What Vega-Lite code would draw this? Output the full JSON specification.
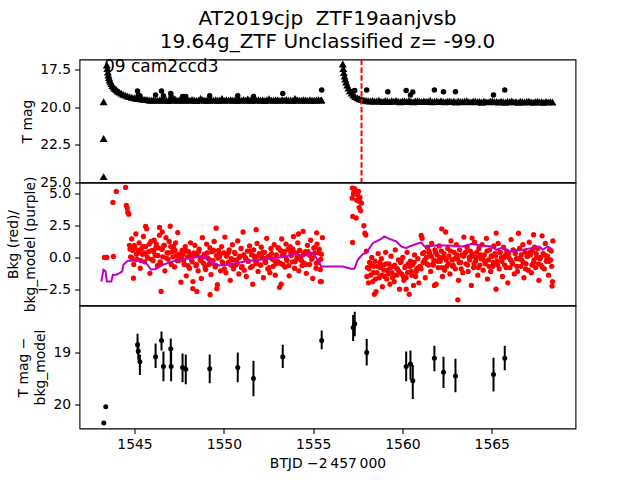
{
"$schema": "https://vega.github.io/schema/vega-lite/v6.json",
"background": "white",
"padding": {"left": 5.5, "top": 7.5, "right": 5, "bottom": 5},
"bounds": "flush",
"spacing": 0,
"config": {
  "font": "DejaVu Sans",
  "view": {"stroke": "black", "strokeWidth": 1.1},
  "axis": {"domain": false, "grid": false, "labelFont": "DejaVu Sans", "labelFontSize": 13.9, "labelColor": "black", "tickColor": "black", "tickSize": 4.9, "tickWidth": 1.1, "labelPadding": 4, "titleFont": "DejaVu Sans", "titleFontSize": 13.9, "titleFontWeight": "normal", "titleColor": "black", "titlePadding": 5, "titleLineHeight": 17, "labelFlush": false}
},
"datasets": {
  "lc": [
    {"t":1543.27,"m":19.65},{"t":1543.27,"m":22.08},{"t":1543.27,"m":24.61},
    {"t":1543.45,"m":17.22},{"t":1543.48,"m":17.45},{"t":1543.51,"m":17.68},{"t":1543.54,"m":17.88},{"t":1543.57,"m":18.05},{"t":1543.61,"m":18.2},{"t":1543.65,"m":18.33},{"t":1543.70,"m":18.45},{"t":1543.76,"m":18.57},{"t":1543.83,"m":18.68},{"t":1543.90,"m":18.77},{"t":1543.98,"m":18.86},{"t":1544.06,"m":18.94},{"t":1544.15,"m":19.01},{"t":1544.25,"m":19.08},{"t":1544.36,"m":19.15},{"t":1544.48,"m":19.21},{"t":1544.60,"m":19.27},{"t":1544.72,"m":19.31},{"t":1544.85,"m":19.35},{"t":1544.98,"m":19.39},{"t":1545.10,"m":19.42},{"t":1545.22,"m":19.44},{"t":1545.34,"m":19.46},{"t":1545.46,"m":19.47},{"t":1545.58,"m":19.49},{"t":1545.70,"m":19.5},
    {"t":1545.82,"m":19.53},{"t":1545.94,"m":19.55},{"t":1546.06,"m":19.51},{"t":1546.18,"m":19.54},{"t":1546.30,"m":19.56},{"t":1546.42,"m":19.52},{"t":1546.54,"m":19.50},{"t":1546.66,"m":19.55},{"t":1546.78,"m":19.53},{"t":1546.90,"m":19.57},
    {"t":1547.02,"m":19.52},{"t":1547.14,"m":19.54},{"t":1547.26,"m":19.45},{"t":1547.38,"m":19.55},{"t":1547.50,"m":19.53},{"t":1547.62,"m":19.51},{"t":1547.74,"m":19.56},{"t":1547.86,"m":19.54},{"t":1547.98,"m":19.52},{"t":1548.10,"m":19.55},
    {"t":1548.22,"m":19.50},{"t":1548.34,"m":19.53},{"t":1548.46,"m":19.57},{"t":1548.58,"m":19.54},{"t":1548.70,"m":19.44},{"t":1548.82,"m":19.52},{"t":1548.94,"m":19.55},{"t":1549.06,"m":19.53},{"t":1549.18,"m":19.56},{"t":1549.30,"m":19.51},
    {"t":1549.42,"m":19.54},{"t":1549.54,"m":19.52},{"t":1549.66,"m":19.55},{"t":1549.78,"m":19.53},{"t":1549.90,"m":19.43},{"t":1550.02,"m":19.56},{"t":1550.14,"m":19.52},{"t":1550.26,"m":19.54},{"t":1550.38,"m":19.51},{"t":1550.50,"m":19.55},
    {"t":1550.62,"m":19.53},{"t":1550.74,"m":19.57},{"t":1550.86,"m":19.52},{"t":1550.98,"m":19.54},{"t":1551.10,"m":19.50},{"t":1551.22,"m":19.55},{"t":1551.34,"m":19.46},{"t":1551.46,"m":19.53},{"t":1551.58,"m":19.56},{"t":1551.70,"m":19.52},
    {"t":1551.82,"m":19.54},{"t":1551.94,"m":19.51},{"t":1552.06,"m":19.55},{"t":1552.18,"m":19.53},{"t":1552.30,"m":19.57},{"t":1552.42,"m":19.52},{"t":1552.54,"m":19.45},{"t":1552.66,"m":19.54},{"t":1552.78,"m":19.55},{"t":1552.90,"m":19.51},
    {"t":1553.02,"m":19.53},{"t":1553.14,"m":19.56},{"t":1553.26,"m":19.52},{"t":1553.38,"m":19.54},{"t":1553.50,"m":19.50},{"t":1553.62,"m":19.55},{"t":1553.74,"m":19.53},{"t":1553.86,"m":19.57},{"t":1553.98,"m":19.44},{"t":1554.10,"m":19.52},
    {"t":1554.22,"m":19.54},{"t":1554.34,"m":19.55},{"t":1554.46,"m":19.51},{"t":1554.58,"m":19.53},{"t":1554.70,"m":19.56},{"t":1554.82,"m":19.52},{"t":1554.94,"m":19.54},{"t":1555.06,"m":19.55},{"t":1555.18,"m":19.53},{"t":1555.30,"m":19.51},
    {"t":1555.42,"m":19.54},{"t":1555.47,"m":19.53},
    {"t":1556.66,"m":17.15},{"t":1556.69,"m":17.45},{"t":1556.72,"m":17.72},{"t":1556.76,"m":17.95},{"t":1556.80,"m":18.15},{"t":1556.85,"m":18.35},{"t":1556.91,"m":18.55},{"t":1556.98,"m":18.74},{"t":1557.06,"m":18.92},{"t":1557.15,"m":19.07},{"t":1557.25,"m":19.2},{"t":1557.36,"m":19.31},{"t":1557.48,"m":19.39},{"t":1557.60,"m":19.45},{"t":1557.72,"m":19.5},{"t":1557.84,"m":19.53},{"t":1557.96,"m":19.56},
    {"t":1558.08,"m":19.58},{"t":1558.20,"m":19.60},{"t":1558.32,"m":19.56},{"t":1558.44,"m":19.62},{"t":1558.56,"m":19.59},{"t":1558.68,"m":19.55},{"t":1558.80,"m":19.61},{"t":1558.92,"m":19.63},{"t":1559.04,"m":19.57},{"t":1559.16,"m":19.60},
    {"t":1559.28,"m":19.64},{"t":1559.40,"m":19.58},{"t":1559.52,"m":19.61},{"t":1559.64,"m":19.56},{"t":1559.76,"m":19.62},{"t":1559.88,"m":19.65},{"t":1560.00,"m":19.59},{"t":1560.12,"m":19.60},{"t":1560.24,"m":19.63},{"t":1560.36,"m":19.57},
    {"t":1560.48,"m":19.61},{"t":1560.60,"m":19.66},{"t":1560.72,"m":19.60},{"t":1560.84,"m":19.58},{"t":1560.96,"m":19.62},{"t":1561.08,"m":19.64},{"t":1561.20,"m":19.59},{"t":1561.32,"m":19.63},{"t":1561.44,"m":19.61},{"t":1561.56,"m":19.57},
    {"t":1561.68,"m":19.65},{"t":1561.80,"m":19.62},{"t":1561.92,"m":19.60},{"t":1562.04,"m":19.64},{"t":1562.16,"m":19.58},{"t":1562.28,"m":19.63},{"t":1562.40,"m":19.66},{"t":1562.52,"m":19.61},{"t":1562.64,"m":19.59},{"t":1562.76,"m":19.64},
    {"t":1562.88,"m":19.62},{"t":1563.00,"m":19.67},{"t":1563.12,"m":19.60},{"t":1563.24,"m":19.63},{"t":1563.36,"m":19.65},{"t":1563.48,"m":19.61},{"t":1563.60,"m":19.58},{"t":1563.72,"m":19.64},{"t":1563.84,"m":19.66},{"t":1563.96,"m":19.62},
    {"t":1564.08,"m":19.60},{"t":1564.20,"m":19.65},{"t":1564.32,"m":19.63},{"t":1564.44,"m":19.68},{"t":1564.56,"m":19.61},{"t":1564.68,"m":19.64},{"t":1564.80,"m":19.66},{"t":1564.92,"m":19.62},{"t":1565.04,"m":19.59},{"t":1565.16,"m":19.65},
    {"t":1565.28,"m":19.63},{"t":1565.40,"m":19.67},{"t":1565.52,"m":19.61},{"t":1565.64,"m":19.64},{"t":1565.76,"m":19.68},{"t":1565.88,"m":19.62},{"t":1566.00,"m":19.65},{"t":1566.12,"m":19.60},{"t":1566.24,"m":19.66},{"t":1566.36,"m":19.64},
    {"t":1566.48,"m":19.69},{"t":1566.60,"m":19.62},{"t":1566.72,"m":19.65},{"t":1566.84,"m":19.67},{"t":1566.96,"m":19.63},{"t":1567.08,"m":19.61},{"t":1567.20,"m":19.66},{"t":1567.32,"m":19.68},{"t":1567.44,"m":19.64},{"t":1567.56,"m":19.62},
    {"t":1567.68,"m":19.67},{"t":1567.80,"m":19.65},{"t":1567.92,"m":19.69},{"t":1568.04,"m":19.63},{"t":1568.16,"m":19.66},{"t":1568.28,"m":19.64},{"t":1568.40,"m":19.67}
  ],
  "det": [
    {"t":1545.17,"m":18.94},{"t":1545.21,"m":19.2},{"t":1545.30,"m":19.25},{"t":1546.18,"m":19.2},{"t":1546.51,"m":18.94},{"t":1546.62,"m":19.25},{"t":1547.03,"m":19.1},{"t":1547.05,"m":19.3},{"t":1547.69,"m":19.3},{"t":1547.87,"m":19.3},{"t":1549.21,"m":19.25},{"t":1550.78,"m":19.25},{"t":1551.66,"m":19.3},{"t":1553.30,"m":19.1},{"t":1555.48,"m":18.87},{"t":1557.24,"m":18.95},{"t":1557.33,"m":18.9},{"t":1558.00,"m":18.87},{"t":1559.18,"m":18.98},{"t":1560.21,"m":18.9},{"t":1560.45,"m":19.2},{"t":1560.58,"m":19.0},{"t":1561.79,"m":18.87},{"t":1562.30,"m":18.98},{"t":1562.97,"m":18.98},{"t":1565.10,"m":19.2},{"t":1565.73,"m":18.87}
  ],
  "bkg": [
    {"t":1543.32,"b":0.0},{"t":1543.45,"b":0.0},{"t":1543.82,"b":0.08},{"t":1543.79,"b":4.32},{"t":1543.98,"b":5.19},{"t":1544.5,"b":5.5},{"t":1544.54,"b":4.09},{"t":1544.59,"b":3.88},{"t":1544.62,"b":3.56},{"t":1544.68,"b":3.4},{"t":1544.94,"b":-1.63},
    {"t":1544.72,"b":0.95},{"t":1544.78,"b":0.05},{"t":1544.84,"b":1.45},{"t":1544.90,"b":0.55},{"t":1544.96,"b":-0.55},{"t":1545.02,"b":0.75},{"t":1545.08,"b":1.85},{"t":1545.14,"b":-0.15},{"t":1545.20,"b":0.35},{"t":1545.26,"b":1.15},
    {"t":1545.32,"b":-0.85},{"t":1545.38,"b":0.65},{"t":1545.44,"b":0.25},{"t":1545.50,"b":1.65},{"t":1545.56,"b":-0.35},{"t":1545.62,"b":0.85},{"t":1545.68,"b":2.25},{"t":1545.74,"b":-0.05},{"t":1545.80,"b":0.45},{"t":1545.86,"b":-1.25},
    {"t":1545.92,"b":1.25},{"t":1545.98,"b":0.55},{"t":1546.04,"b":-0.25},{"t":1546.10,"b":1.35},{"t":1546.16,"b":0.15},{"t":1546.22,"b":1.05},{"t":1546.28,"b":-0.65},{"t":1546.34,"b":0.75},{"t":1546.40,"b":1.75},{"t":1546.46,"b":-0.45},
    {"t":1546.52,"b":0.65},{"t":1546.58,"b":0.05},{"t":1546.64,"b":0.95},{"t":1546.70,"b":-1.05},{"t":1546.76,"b":1.55},{"t":1546.82,"b":0.35},{"t":1546.88,"b":-0.15},{"t":1546.94,"b":1.25},{"t":1547.00,"b":2.45},{"t":1547.06,"b":-0.55},
    {"t":1547.12,"b":0.45},{"t":1547.18,"b":0.85},{"t":1547.24,"b":-0.75},{"t":1547.30,"b":1.15},{"t":1547.36,"b":0.15},{"t":1547.42,"b":1.95},{"t":1547.48,"b":-0.25},{"t":1547.54,"b":0.05},{"t":1547.60,"b":-1.95},{"t":1547.66,"b":0.55},
    {"t":1547.72,"b":0.25},{"t":1547.78,"b":-0.55},{"t":1547.84,"b":0.85},{"t":1547.90,"b":-1.45},{"t":1547.96,"b":0.05},{"t":1548.02,"b":0.45},{"t":1548.08,"b":-0.85},{"t":1548.14,"b":1.15},{"t":1548.20,"b":-0.25},{"t":1548.26,"b":-2.45},
    {"t":1548.32,"b":0.35},{"t":1548.38,"b":0.95},{"t":1548.44,"b":-0.65},{"t":1548.50,"b":0.15},{"t":1548.56,"b":-1.05},{"t":1548.62,"b":0.65},{"t":1548.68,"b":-0.15},{"t":1548.74,"b":-1.65},{"t":1548.80,"b":1.55},{"t":1548.86,"b":-0.45},
    {"t":1548.92,"b":0.25},{"t":1548.98,"b":-0.95},{"t":1549.04,"b":1.05},{"t":1549.10,"b":-0.05},{"t":1549.16,"b":-0.55},{"t":1549.22,"b":0.75},{"t":1549.28,"b":-1.35},{"t":1549.34,"b":0.45},{"t":1549.40,"b":-0.25},{"t":1549.46,"b":1.25},
    {"t":1549.52,"b":-0.75},{"t":1549.58,"b":0.15},{"t":1549.64,"b":-2.15},{"t":1549.70,"b":0.55},{"t":1549.76,"b":0.05},{"t":1549.82,"b":-1.05},{"t":1549.88,"b":0.85},{"t":1549.94,"b":-0.45},{"t":1550.00,"b":0.35},{"t":1550.06,"b":1.6},
    {"t":1550.12,"b":-1.2},{"t":1550.18,"b":0.2},{"t":1550.24,"b":-0.4},{"t":1550.30,"b":0.6},{"t":1550.36,"b":-1.8},{"t":1550.42,"b":-0.1},{"t":1550.48,"b":1.0},{"t":1550.54,"b":-0.9},{"t":1550.60,"b":0.4},{"t":1550.66,"b":-0.6},
    {"t":1550.72,"b":-0.2},{"t":1550.78,"b":1.3},{"t":1550.84,"b":-1.3},{"t":1550.90,"b":0.1},{"t":1550.96,"b":0.7},{"t":1551.02,"b":-0.7},{"t":1551.08,"b":2.0},{"t":1551.14,"b":-1.0},{"t":1551.20,"b":0.0},{"t":1551.26,"b":-1.5},
    {"t":1551.32,"b":0.5},{"t":1551.38,"b":-0.3},{"t":1551.44,"b":0.9},{"t":1551.50,"b":-0.8},{"t":1551.56,"b":0.2},{"t":1551.62,"b":-2.1},{"t":1551.68,"b":0.6},{"t":1551.74,"b":-0.2},{"t":1551.80,"b":-0.5},{"t":1551.86,"b":1.1},
    {"t":1551.92,"b":-1.1},{"t":1551.98,"b":0.3},{"t":1552.04,"b":-0.6},{"t":1552.10,"b":0.8},{"t":1552.16,"b":0.0},{"t":1552.22,"b":-1.6},{"t":1552.28,"b":0.4},{"t":1552.34,"b":-0.4},{"t":1552.40,"b":1.5},{"t":1552.46,"b":-0.9},
    {"t":1552.52,"b":0.1},{"t":1552.58,"b":-1.2},{"t":1552.64,"b":0.7},{"t":1552.70,"b":-0.1},{"t":1552.76,"b":-0.7},{"t":1552.82,"b":1.0},{"t":1552.88,"b":-1.4},{"t":1552.94,"b":0.2},{"t":1553.00,"b":-0.3},{"t":1553.06,"b":0.75},
    {"t":1553.12,"b":-2.35},{"t":1553.18,"b":0.55},{"t":1553.24,"b":1.45},{"t":1553.30,"b":-0.55},{"t":1553.36,"b":0.25},{"t":1553.42,"b":-0.75},{"t":1553.48,"b":1.05},{"t":1553.54,"b":-0.25},{"t":1553.60,"b":0.65},{"t":1553.66,"b":-1.45},
    {"t":1553.72,"b":0.85},{"t":1553.78,"b":0.15},{"t":1553.84,"b":-0.35},{"t":1553.90,"b":1.65},{"t":1553.96,"b":-0.85},{"t":1554.02,"b":0.35},{"t":1554.08,"b":-0.15},{"t":1554.14,"b":1.15},{"t":1554.20,"b":-1.05},{"t":1554.26,"b":0.55},
    {"t":1554.32,"b":0.05},{"t":1554.38,"b":-0.65},{"t":1554.44,"b":2.05},{"t":1554.50,"b":-0.45},{"t":1554.56,"b":0.45},{"t":1554.62,"b":-1.25},{"t":1554.68,"b":0.95},{"t":1554.74,"b":0.25},{"t":1554.80,"b":-0.55},{"t":1554.86,"b":1.35},
    {"t":1554.92,"b":-0.15},{"t":1554.98,"b":-1.65},{"t":1555.04,"b":0.75},{"t":1555.10,"b":0.35},{"t":1555.16,"b":-0.85},{"t":1555.22,"b":1.05},{"t":1555.28,"b":-0.35},{"t":1555.34,"b":0.65},{"t":1555.40,"b":-0.95},{"t":1555.46,"b":0.25},
    {"t":1555.52,"b":1.55},
    {"t":1555.40,"b":-1.9},{"t":1555.46,"b":-1.9},{"t":1555.2,"b":1.93},{"t":1546.49,"b":-2.67},{"t":1548.49,"b":-2.67},{"t":1549.23,"b":-2.93},{"t":1549.61,"b":-2.46},{"t":1548.27,"b":-1.9},{"t":1553.21,"b":-2.1},{"t":1545.62,"b":2.44},{"t":1546.40,"b":2.36},{"t":1546.55,"b":2.0},{"t":1549.57,"b":2.3},{"t":1551.81,"b":2.18},{"t":1554.18,"b":1.84},
    {"t":1544.75,"b":0.65},{"t":1544.87,"b":-0.05},{"t":1544.99,"b":0.95},{"t":1545.11,"b":0.25},{"t":1545.23,"b":0.55},{"t":1545.35,"b":-0.25},{"t":1545.47,"b":0.85},{"t":1545.59,"b":0.35},{"t":1545.71,"b":0.05},{"t":1545.83,"b":1.05},
    {"t":1545.95,"b":-0.15},{"t":1546.07,"b":0.45},{"t":1546.19,"b":0.75},{"t":1546.31,"b":0.15},{"t":1546.43,"b":-0.35},{"t":1546.55,"b":0.65},{"t":1546.67,"b":0.95},{"t":1546.79,"b":-0.05},{"t":1546.91,"b":0.35},{"t":1547.03,"b":0.85},
    {"t":1547.15,"b":0.05},{"t":1547.27,"b":0.55},{"t":1547.39,"b":-0.25},{"t":1547.51,"b":0.25},{"t":1547.63,"b":-0.05},{"t":1547.75,"b":-0.25},{"t":1547.87,"b":0.55},{"t":1547.99,"b":-0.65},{"t":1548.11,"b":0.15},{"t":1548.23,"b":-0.35},
    {"t":1548.35,"b":0.15},{"t":1548.47,"b":-0.55},{"t":1548.59,"b":0.45},{"t":1548.71,"b":-0.25},{"t":1548.83,"b":0.05},{"t":1548.95,"b":-0.75},{"t":1549.07,"b":0.35},{"t":1549.19,"b":-0.15},{"t":1549.31,"b":-0.45},{"t":1549.43,"b":0.55},
    {"t":1549.55,"b":-0.65},{"t":1549.67,"b":-0.05},{"t":1549.79,"b":0.25},{"t":1549.91,"b":-0.35},{"t":1550.03,"b":-0.9},{"t":1550.15,"b":0.1},{"t":1550.27,"b":0.4},{"t":1550.39,"b":-0.6},{"t":1550.51,"b":-0.2},{"t":1550.63,"b":0.3},
    {"t":1550.75,"b":-0.5},{"t":1550.87,"b":0.0},{"t":1550.99,"b":-0.8},{"t":1551.11,"b":0.2},{"t":1551.23,"b":-0.1},{"t":1551.35,"b":-0.3},{"t":1551.47,"b":0.5},{"t":1551.59,"b":-0.7},{"t":1551.71,"b":0.1},{"t":1551.83,"b":-0.4},
    {"t":1551.95,"b":0.1},{"t":1552.07,"b":-0.6},{"t":1552.19,"b":0.4},{"t":1552.31,"b":-0.3},{"t":1552.43,"b":0.0},{"t":1552.55,"b":-0.8},{"t":1552.67,"b":0.3},{"t":1552.79,"b":-0.2},{"t":1552.91,"b":-0.5},{"t":1553.03,"b":0.75},
    {"t":1553.15,"b":-0.45},{"t":1553.27,"b":0.15},{"t":1553.39,"b":0.45},{"t":1553.51,"b":-0.15},{"t":1553.63,"b":-0.65},{"t":1553.75,"b":0.35},{"t":1553.87,"b":0.65},{"t":1553.99,"b":-0.35},{"t":1554.11,"b":0.05},{"t":1554.23,"b":0.55},
    {"t":1554.35,"b":-0.25},{"t":1554.47,"b":0.25},{"t":1554.59,"b":-0.55},{"t":1554.71,"b":0.45},{"t":1554.83,"b":0.15},{"t":1554.95,"b":-0.05},{"t":1555.07,"b":0.75},{"t":1555.19,"b":-0.45},{"t":1555.31,"b":0.35},{"t":1555.43,"b":-0.15},
    {"t":1557.19,"b":5.45},{"t":1557.19,"b":4.66},{"t":1557.21,"b":1.18},{"t":1557.22,"b":3.22},{"t":1557.26,"b":4.98},{"t":1557.28,"b":5.1},{"t":1557.32,"b":5.4},{"t":1557.38,"b":5.24},{"t":1557.41,"b":3.1},{"t":1557.45,"b":4.5},{"t":1557.48,"b":4.93},{"t":1557.54,"b":5.2},{"t":1557.58,"b":3.92},{"t":1557.60,"b":4.4},{"t":1557.62,"b":4.72},{"t":1557.66,"b":3.67},{"t":1557.71,"b":4.27},{"t":1557.84,"b":2.49},{"t":1557.90,"b":1.9},{"t":1557.95,"b":1.77},
    {"t":1557.98,"b":0.5},{"t":1558.04,"b":-0.8},{"t":1558.10,"b":-2.0},{"t":1558.16,"b":-0.4},{"t":1558.22,"b":-1.4},{"t":1558.28,"b":0.0},{"t":1558.34,"b":-1.9},{"t":1558.40,"b":-0.7},{"t":1558.46,"b":-0.3},{"t":1558.52,"b":-2.7},
    {"t":1558.58,"b":-1.2},{"t":1558.64,"b":0.3},{"t":1558.70,"b":-1.6},{"t":1558.76,"b":-0.8},{"t":1558.82,"b":-0.1},{"t":1558.88,"b":-2.3},{"t":1558.94,"b":-0.6},{"t":1559.00,"b":-1.5},{"t":1559.06,"b":0.4},{"t":1559.12,"b":-1.7},
    {"t":1559.18,"b":-1.0},{"t":1559.24,"b":-0.5},{"t":1559.30,"b":-2.1},{"t":1559.36,"b":0.1},{"t":1559.42,"b":-1.2},{"t":1559.48,"b":-0.7},{"t":1559.54,"b":-1.9},{"t":1559.60,"b":0.6},{"t":1559.66,"b":-1.4},{"t":1559.72,"b":-0.9},
    {"t":1559.78,"b":-0.2},{"t":1559.84,"b":-2.5},{"t":1559.90,"b":-0.4},{"t":1559.96,"b":-1.3},{"t":1560.02,"b":0.0},{"t":1560.08,"b":-1.8},{"t":1560.14,"b":-0.8},{"t":1560.20,"b":-1.6},{"t":1560.26,"b":0.4},{"t":1560.32,"b":-0.5},
    {"t":1560.38,"b":-2.9},{"t":1560.44,"b":-0.3},{"t":1560.50,"b":-1.1},{"t":1560.56,"b":-0.6},{"t":1560.62,"b":-2.2},{"t":1560.68,"b":0.2},{"t":1560.74,"b":-1.5},{"t":1560.80,"b":-0.9},{"t":1560.86,"b":-0.1},{"t":1560.92,"b":-2.0},
    {"t":1560.98,"b":-0.7},{"t":1561.04,"b":-0.9},{"t":1561.10,"b":1.5},{"t":1561.16,"b":-0.4},{"t":1561.22,"b":0.4},{"t":1561.28,"b":-1.6},{"t":1561.34,"b":0.0},{"t":1561.40,"b":0.8},{"t":1561.46,"b":-0.6},{"t":1561.52,"b":0.3},
    {"t":1561.58,"b":-1.1},{"t":1561.64,"b":1.1},{"t":1561.70,"b":-0.5},{"t":1561.76,"b":-0.2},{"t":1561.82,"b":0.6},{"t":1561.88,"b":-2.1},{"t":1561.94,"b":0.2},{"t":1562.00,"b":-0.8},{"t":1562.06,"b":0.9},{"t":1562.12,"b":-0.3},
    {"t":1562.18,"b":0.5},{"t":1562.24,"b":-1.5},{"t":1562.30,"b":0.0},{"t":1562.36,"b":-1.0},{"t":1562.42,"b":2.0},{"t":1562.48,"b":-0.7},{"t":1562.54,"b":0.7},{"t":1562.60,"b":0.1},{"t":1562.66,"b":-1.3},{"t":1562.72,"b":1.3},
    {"t":1562.78,"b":-0.2},{"t":1562.84,"b":-0.6},{"t":1562.90,"b":0.4},{"t":1562.96,"b":-0.9},{"t":1563.02,"b":1.0},{"t":1563.08,"b":-0.1},{"t":1563.14,"b":-1.8},{"t":1563.20,"b":0.6},{"t":1563.26,"b":-0.4},{"t":1563.32,"b":0.2},
    {"t":1563.38,"b":-1.2},{"t":1563.44,"b":1.6},{"t":1563.50,"b":0.3},{"t":1563.56,"b":-0.5},{"t":1563.62,"b":0.8},{"t":1563.68,"b":-1.1},{"t":1563.74,"b":0.0},{"t":1563.80,"b":0.5},{"t":1563.86,"b":-2.2},{"t":1563.92,"b":0.1},
    {"t":1563.98,"b":-0.8},{"t":1564.04,"b":1.2},{"t":1564.10,"b":-0.3},{"t":1564.16,"b":0.4},{"t":1564.22,"b":-1.4},{"t":1564.28,"b":0.7},{"t":1564.34,"b":-0.6},{"t":1564.40,"b":-0.1},{"t":1564.46,"b":1.0},{"t":1564.52,"b":-1.0},
    {"t":1564.58,"b":0.2},{"t":1564.64,"b":-0.5},{"t":1564.70,"b":1.5},{"t":1564.76,"b":-1.7},{"t":1564.82,"b":-0.2},{"t":1564.88,"b":0.6},{"t":1564.94,"b":-1.1},{"t":1565.00,"b":0.1},{"t":1565.06,"b":-0.7},{"t":1565.12,"b":0.9},
    {"t":1565.18,"b":0.3},{"t":1565.24,"b":-2.5},{"t":1565.30,"b":-0.3},{"t":1565.36,"b":1.1},{"t":1565.42,"b":-0.9},{"t":1565.48,"b":0.4},{"t":1565.54,"b":0.0},{"t":1565.60,"b":-1.5},{"t":1565.66,"b":0.8},{"t":1565.72,"b":-0.6},
    {"t":1565.78,"b":0.2},{"t":1565.84,"b":0.5},{"t":1565.90,"b":-2.0},{"t":1565.96,"b":0.0},{"t":1566.02,"b":-0.8},{"t":1566.08,"b":1.4},{"t":1566.14,"b":-0.4},{"t":1566.20,"b":0.6},{"t":1566.26,"b":-1.3},{"t":1566.32,"b":0.3},
    {"t":1566.38,"b":-0.1},{"t":1566.44,"b":-1.1},{"t":1566.50,"b":1.9},{"t":1566.56,"b":0.7},{"t":1566.62,"b":-0.7},{"t":1566.68,"b":-0.2},{"t":1566.74,"b":1.0},{"t":1566.80,"b":-1.6},{"t":1566.86,"b":0.4},{"t":1566.92,"b":-0.5},
    {"t":1566.98,"b":0.1},{"t":1567.04,"b":-1.0},{"t":1567.10,"b":1.2},{"t":1567.16,"b":0.2},{"t":1567.22,"b":-1.2},{"t":1567.28,"b":0.5},{"t":1567.34,"b":-0.4},{"t":1567.40,"b":0.8},{"t":1567.46,"b":-0.8},{"t":1567.52,"b":0.0},
    {"t":1567.58,"b":0.7},{"t":1567.64,"b":-1.8},{"t":1567.70,"b":-0.1},{"t":1567.76,"b":-0.6},{"t":1567.82,"b":1.7},{"t":1567.88,"b":0.3},{"t":1567.94,"b":-0.9},{"t":1568.00,"b":1.1},{"t":1568.06,"b":-0.3},{"t":1568.12,"b":0.1},
    {"t":1568.18,"b":-1.4},{"t":1568.24,"b":0.6},{"t":1568.30,"b":-0.2},{"t":1568.36,"b":-0.7},{"t":1568.42,"b":1.3},
    {"t":1563.10,"b":-3.33},{"t":1568.40,"b":-1.9},{"t":1568.38,"b":-2.25},{"t":1562.2,"b":2.25},{"t":1558.43,"b":-2.9},{"t":1560.21,"b":-2.5},{"t":1561.79,"b":-2.2},{"t":1565.25,"b":1.91},{"t":1567.34,"b":1.79},{"t":1561.05,"b":1.73},{"t":1563.9,"b":1.52},
    {"t":1558.01,"b":-1.5},{"t":1558.13,"b":-0.9},{"t":1558.25,"b":-0.6},{"t":1558.37,"b":-1.2},{"t":1558.49,"b":-1.7},{"t":1558.61,"b":-0.7},{"t":1558.73,"b":-0.4},{"t":1558.85,"b":-1.4},{"t":1558.97,"b":-1.0},{"t":1559.09,"b":-0.5},
    {"t":1559.21,"b":-1.3},{"t":1559.33,"b":-0.8},{"t":1559.45,"b":-1.6},{"t":1559.57,"b":-0.6},{"t":1559.69,"b":-0.9},{"t":1559.81,"b":-1.1},{"t":1559.93,"b":-0.3},{"t":1560.05,"b":-1.5},{"t":1560.17,"b":-0.7},{"t":1560.29,"b":-1.2},
    {"t":1560.41,"b":-0.7},{"t":1560.53,"b":-1.4},{"t":1560.65,"b":-0.4},{"t":1560.77,"b":-1.1},{"t":1560.89,"b":-0.8},{"t":1561.01,"b":-0.8},{"t":1561.13,"b":0.3},{"t":1561.25,"b":-0.2},{"t":1561.37,"b":-0.5},{"t":1561.49,"b":0.5},
    {"t":1561.61,"b":0.1},{"t":1561.73,"b":-0.6},{"t":1561.85,"b":0.4},{"t":1561.97,"b":-0.3},{"t":1562.09,"b":0.0},{"t":1562.21,"b":-0.8},{"t":1562.33,"b":0.3},{"t":1562.45,"b":-0.2},{"t":1562.57,"b":-0.5},{"t":1562.69,"b":0.5},
    {"t":1562.81,"b":-0.7},{"t":1562.93,"b":-0.1},{"t":1563.05,"b":0.2},{"t":1563.17,"b":-0.4},{"t":1563.29,"b":-0.9},{"t":1563.41,"b":0.1},{"t":1563.53,"b":0.4},{"t":1563.65,"b":-0.6},{"t":1563.77,"b":-0.2},{"t":1563.89,"b":0.3},
    {"t":1564.01,"b":-0.5},{"t":1564.13,"b":0.0},{"t":1564.25,"b":-0.8},{"t":1564.37,"b":0.2},{"t":1564.49,"b":-0.1},{"t":1564.61,"b":-0.3},{"t":1564.73,"b":0.5},{"t":1564.85,"b":-0.7},{"t":1564.97,"b":0.1},{"t":1565.09,"b":-0.4},
    {"t":1565.21,"b":0.1},{"t":1565.33,"b":-0.6},{"t":1565.45,"b":0.4},{"t":1565.57,"b":-0.3},{"t":1565.69,"b":0.0},{"t":1565.81,"b":-0.8},{"t":1565.93,"b":0.3},{"t":1566.05,"b":-0.2},{"t":1566.17,"b":-0.5},{"t":1566.29,"b":0.5},
    {"t":1566.41,"b":-0.7},{"t":1566.53,"b":-0.1},{"t":1566.65,"b":0.2},{"t":1566.77,"b":-0.4},{"t":1566.89,"b":-0.9},{"t":1567.01,"b":0.1},{"t":1567.13,"b":0.4},{"t":1567.25,"b":-0.6},{"t":1567.37,"b":-0.2},{"t":1567.49,"b":0.3},
    {"t":1567.61,"b":-0.5},{"t":1567.73,"b":0.0},{"t":1567.85,"b":-0.8},{"t":1567.97,"b":0.2},{"t":1568.09,"b":-0.1},{"t":1568.21,"b":-0.3},{"t":1568.33,"b":0.5}
  ],
  "model": [
    {"t":1543.14,"b":-1.89},{"t":1543.26,"b":-0.97},{"t":1543.38,"b":-1.1},{"t":1543.45,"b":-1.89},{"t":1543.70,"b":-1.89},{"t":1543.79,"b":-1.36},{"t":1543.98,"b":-1.36},{"t":1544.16,"b":-1.23},{"t":1544.31,"b":-1.1},{"t":1544.38,"b":-0.58},{"t":1544.62,"b":-0.26},{"t":1545.28,"b":-0.26},{"t":1545.65,"b":-0.44},{"t":1545.93,"b":-0.97},{"t":1546.21,"b":-0.89},{"t":1546.58,"b":-0.58},{"t":1547.14,"b":-0.31},{"t":1547.5,"b":-0.25},{"t":1547.89,"b":-0.1},{"t":1548.3,"b":-0.02},{"t":1548.64,"b":0.08},{"t":1549.01,"b":0.16},{"t":1549.16,"b":-0.31},{"t":1549.76,"b":-0.63},{"t":1550.1,"b":-0.6},{"t":1550.5,"b":-0.52},{"t":1550.9,"b":-0.4},{"t":1551.25,"b":-0.31},{"t":1551.6,"b":-0.25},{"t":1552.0,"b":-0.18},{"t":1552.4,"b":-0.12},{"t":1552.74,"b":-0.05},{"t":1553.1,"b":0.0},{"t":1553.49,"b":0.08},{"t":1553.8,"b":0.2},{"t":1554.05,"b":0.34},{"t":1554.42,"b":0.08},{"t":1554.8,"b":0.34},{"t":1554.98,"b":0.34},{"t":1555.26,"b":-0.18},{"t":1555.45,"b":-0.71},{"t":1556.66,"b":-0.71},{"t":1557.13,"b":-0.89},{"t":1557.31,"b":-0.89},{"t":1557.50,"b":-0.18},{"t":1557.78,"b":0.26},{"t":1557.97,"b":0.34},{"t":1558.34,"b":1.12},{"t":1558.81,"b":1.46},{"t":1558.99,"b":1.65},{"t":1559.27,"b":1.46},{"t":1559.65,"b":1.26},{"t":1559.93,"b":0.86},{"t":1560.21,"b":0.73},{"t":1560.39,"b":0.86},{"t":1560.77,"b":1.05},{"t":1561.05,"b":1.18},{"t":1561.23,"b":0.86},{"t":1561.89,"b":0.94},{"t":1562.63,"b":0.94},{"t":1563.38,"b":0.86},{"t":1563.85,"b":1.05},{"t":1564.41,"b":0.94},{"t":1564.97,"b":0.86},{"t":1565.25,"b":0.6},{"t":1565.62,"b":0.78},{"t":1565.99,"b":0.47},{"t":1566.74,"b":0.6},{"t":1567.21,"b":0.73},{"t":1567.67,"b":0.86},{"t":1567.86,"b":0.6},{"t":1568.14,"b":0.86},{"t":1568.42,"b":0.6}
  ],
  "diff": [
    {"t":1543.28,"m":20.35},{"t":1543.39,"m":20.04},
    {"t":1545.17,"m":18.85,"lo":18.64,"hi":19.03},{"t":1545.21,"m":18.97,"lo":18.80,"hi":19.14},{"t":1545.30,"m":19.18,"lo":19.04,"hi":19.43},{"t":1546.18,"m":19.08,"lo":18.83,"hi":19.30},{"t":1546.51,"m":18.77,"lo":18.60,"hi":18.96},{"t":1546.62,"m":19.27,"lo":18.98,"hi":19.55},{"t":1547.03,"m":18.93,"lo":18.73,"hi":19.27},{"t":1547.05,"m":19.27,"lo":18.98,"hi":19.55},{"t":1547.69,"m":19.29,"lo":19.02,"hi":19.57},{"t":1547.87,"m":19.32,"lo":19.04,"hi":19.61},{"t":1549.21,"m":19.31,"lo":19.04,"hi":19.59},{"t":1550.78,"m":19.29,"lo":19.00,"hi":19.57},{"t":1551.66,"m":19.50,"lo":19.16,"hi":19.84},{"t":1553.30,"m":19.08,"lo":18.85,"hi":19.30},{"t":1555.48,"m":18.77,"lo":18.58,"hi":18.94},{"t":1557.24,"m":18.52,"lo":18.28,"hi":18.78},{"t":1557.33,"m":18.45,"lo":18.22,"hi":18.69},{"t":1558.00,"m":19.00,"lo":18.74,"hi":19.25},{"t":1560.21,"m":19.27,"lo":18.98,"hi":19.55},{"t":1560.45,"m":19.22,"lo":18.96,"hi":19.52},{"t":1560.58,"m":19.54,"lo":19.24,"hi":19.89},{"t":1561.79,"m":19.11,"lo":18.87,"hi":19.36},{"t":1562.30,"m":19.38,"lo":19.08,"hi":19.68},{"t":1562.97,"m":19.45,"lo":19.12,"hi":19.76},{"t":1565.10,"m":19.42,"lo":19.10,"hi":19.75},{"t":1565.73,"m":19.11,"lo":18.87,"hi":19.34}
  ]
},
"vconcat": [
  {
    "width": 496, "height": 123,
    "title": {"text": ["AT2019cjp\u00a0 ZTF19aanjvsb", "19.64g_ZTF Unclassified z= -99.0"], "fontSize": 20, "fontWeight": "normal", "font": "DejaVu Sans", "lineHeight": 23.5, "anchor": "middle", "offset": 6, "color": "black"},
    "layer": [
      {"data": {"name": "lc"}, "mark": {"type": "point", "shape": "triangle-up", "filled": true, "size": 64, "color": "black", "opacity": 1, "clip": true},
       "encoding": {
         "x": {"field": "t", "type": "quantitative", "scale": {"domain": [1541.92, 1569.69], "nice": false, "zero": false}, "axis": null},
         "y": {"field": "m", "type": "quantitative", "scale": {"domain": [16.85, 25.0], "reverse": true, "nice": false, "zero": false}, "axis": {"title": "T mag", "values": [17.5, 20, 22.5, 25], "format": ".1f"}}}},
      {"data": {"name": "det"}, "mark": {"type": "circle", "size": 30, "color": "black", "opacity": 1, "clip": true},
       "encoding": {"x": {"field": "t", "type": "quantitative"}, "y": {"field": "m", "type": "quantitative"}}},
      {"data": {"values": [{"t": 1557.71}]}, "mark": {"type": "rule", "color": "red", "strokeWidth": 2, "strokeDash": [5.5, 2.4]},
       "encoding": {"x": {"field": "t", "type": "quantitative"}}},
      {"data": {"values": [{"t": 1543.29, "m": 17.7, "label": "09 cam2ccd3"}]}, "mark": {"type": "text", "align": "left", "baseline": "alphabetic", "fontSize": 17, "color": "black", "font": "DejaVu Sans"},
       "encoding": {"x": {"field": "t", "type": "quantitative"}, "y": {"field": "m", "type": "quantitative"}, "text": {"field": "label"}}}
    ]
  },
  {
    "width": 496, "height": 123,
    "layer": [
      {"data": {"name": "bkg"}, "mark": {"type": "circle", "size": 28, "color": "#FF0000", "opacity": 1, "clip": true},
       "encoding": {
         "x": {"field": "t", "type": "quantitative", "scale": {"domain": [1541.92, 1569.69], "nice": false, "zero": false}, "axis": null},
         "y": {"field": "b", "type": "quantitative", "scale": {"domain": [-3.78, 5.89], "nice": false, "zero": false}, "axis": {"title": ["Bkg (red)/", "bkg_model (purple)"], "titlePadding": -1, "values": [-2.5, 0, 2.5, 5], "format": ".1f"}}}},
      {"data": {"name": "model"}, "mark": {"type": "line", "color": "#BF00BF", "strokeWidth": 2, "clip": true},
       "encoding": {"x": {"field": "t", "type": "quantitative"}, "y": {"field": "b", "type": "quantitative"}}}
    ]
  },
  {
    "width": 496, "height": 123,
    "layer": [
      {"data": {"name": "diff"}, "mark": {"type": "rule", "color": "black", "strokeWidth": 2, "clip": true},
       "encoding": {
         "x": {"field": "t", "type": "quantitative", "scale": {"domain": [1541.92, 1569.69], "nice": false, "zero": false}, "axis": {"title": "BTJD \u22122\u2009457\u2009000", "values": [1545, 1550, 1555, 1560, 1565], "format": "d"}},
         "y": {"field": "lo", "type": "quantitative", "scale": {"domain": [18.10, 20.457], "reverse": true, "nice": false, "zero": false}, "axis": {"title": ["T mag \u2212", "bkg_model"], "values": [19, 20], "format": "d"}},
         "y2": {"field": "hi"}}},
      {"data": {"name": "diff"}, "mark": {"type": "circle", "size": 25, "color": "black", "opacity": 1, "clip": true},
       "encoding": {"x": {"field": "t", "type": "quantitative"}, "y": {"field": "m", "type": "quantitative"}}}
    ]
  }
]
}
